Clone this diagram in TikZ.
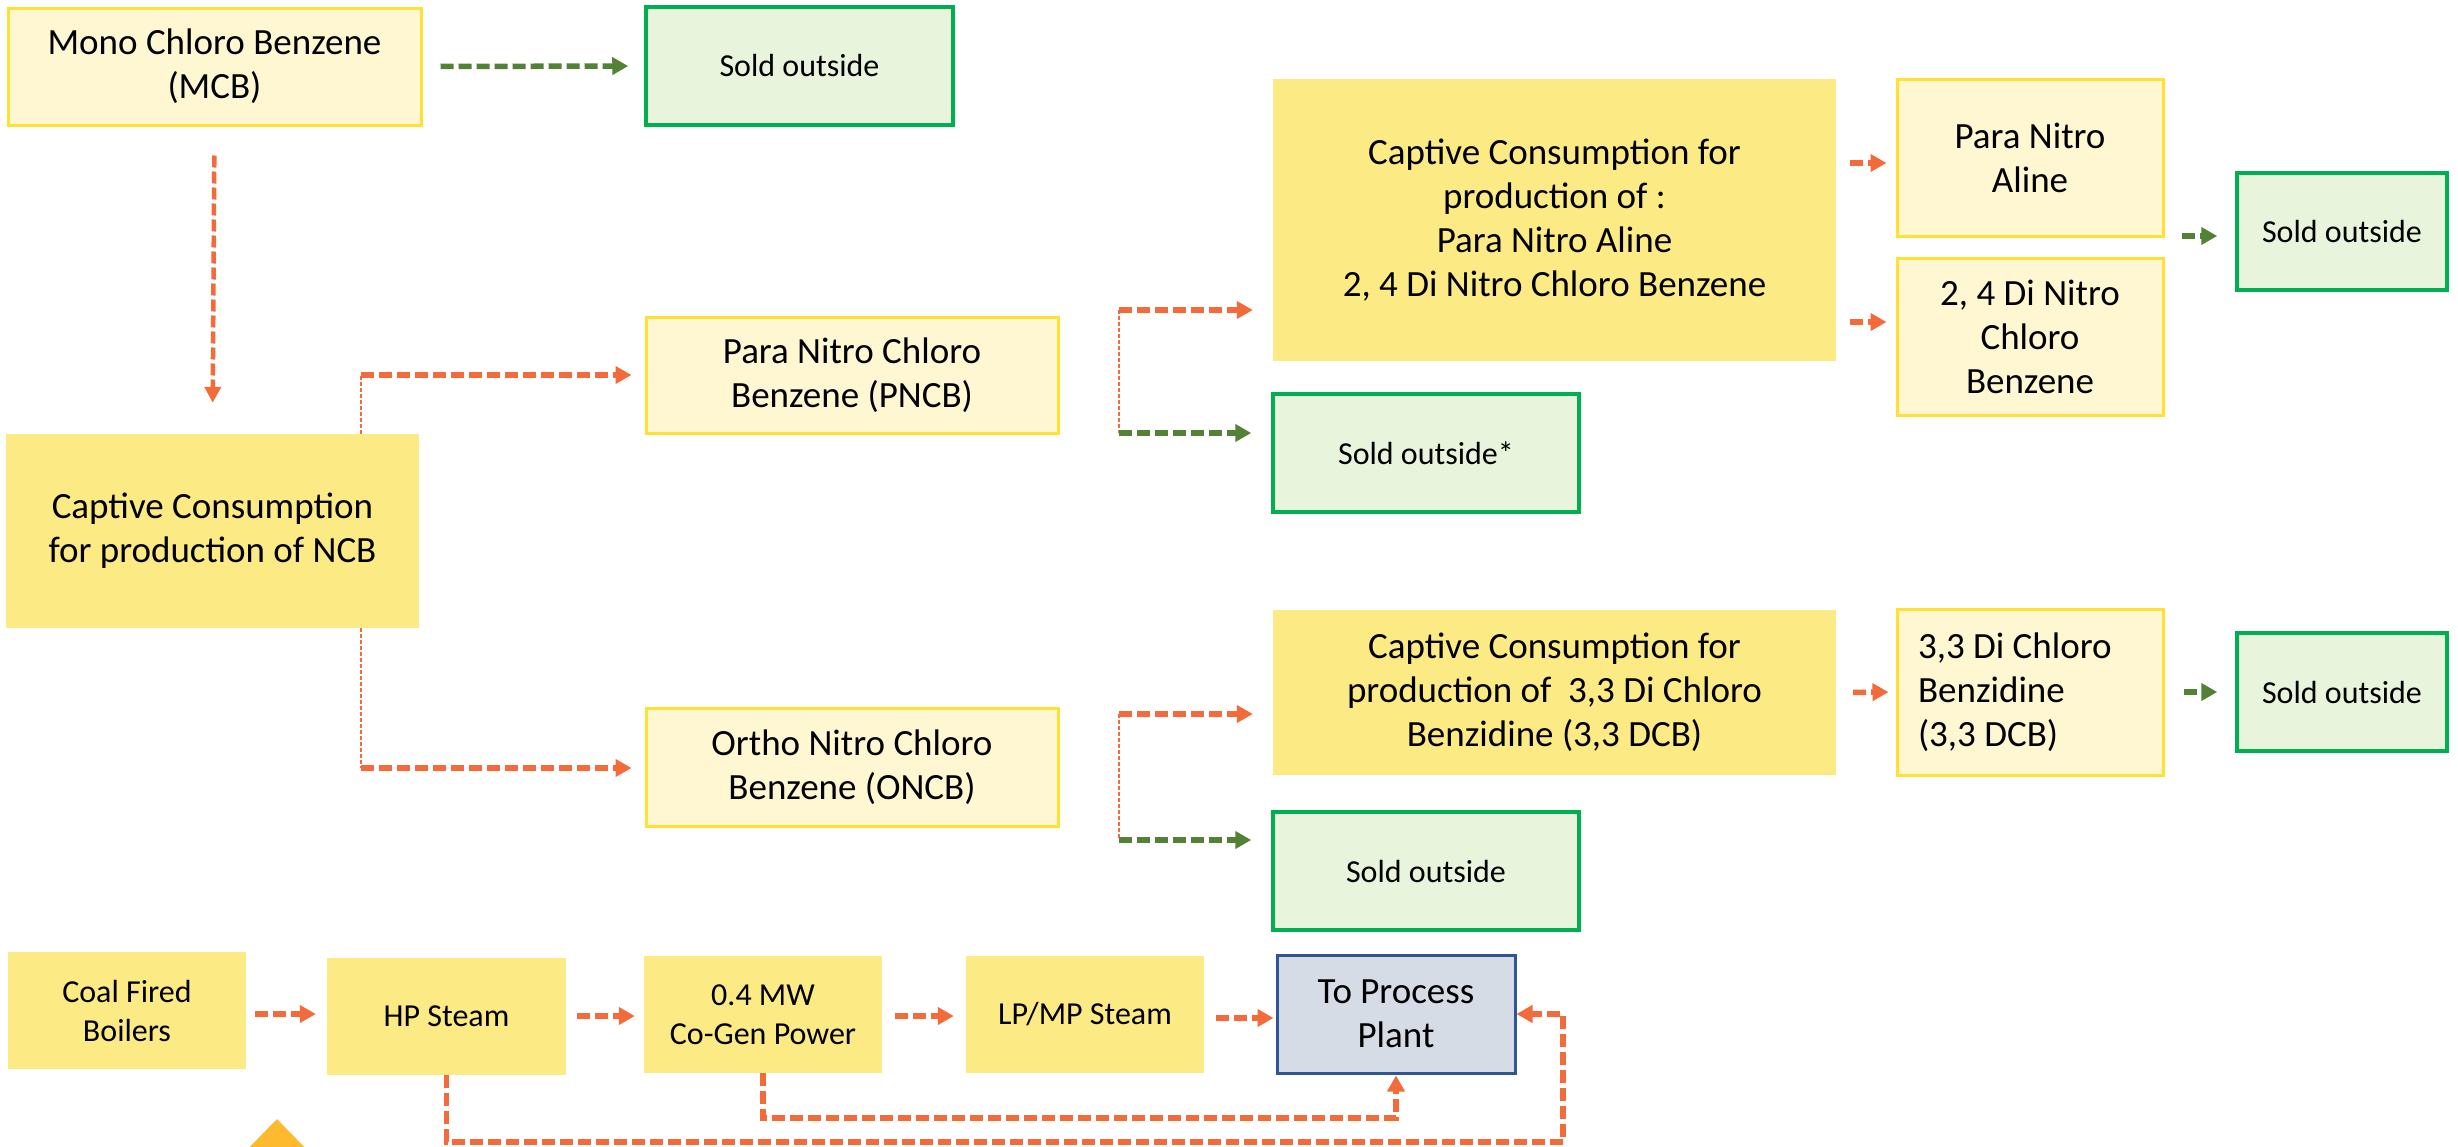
\documentclass[tikz,border=0pt]{standalone}
\usepackage{fontspec}
\setmainfont{Carlito}
\usetikzlibrary{arrows.meta,calc}
\definecolor{lyfill}{HTML}{FFF7D1}
\definecolor{yline}{HTML}{FFE033}
\definecolor{yfill}{HTML}{FCEA84}
\definecolor{gfill}{HTML}{E8F4DC}
\definecolor{gline}{HTML}{00B050}
\definecolor{garr}{HTML}{538135}
\definecolor{oarr}{HTML}{F36B3A}
\definecolor{bfill}{HTML}{D6DCE5}
\definecolor{bline}{HTML}{2F5597}
\definecolor{trif}{HTML}{FDBA2F}
\tikzset{
  box/.style={rectangle, inner sep=0pt, align=center, text=black},
  bigtxt/.style={font=\fontsize{37}{44}\selectfont},
  smalltxt/.style={font=\fontsize{32}{39}\selectfont},
  lybox/.style={box,bigtxt,fill=lyfill,draw=yline,line width=3pt},
  ybox/.style={box,bigtxt,fill=yfill},
  sybox/.style={box,smalltxt,fill=yfill},
  gbox/.style={box,smalltxt,fill=gfill,draw=gline,line width=3.5pt},
  bbox/.style={box,bigtxt,fill=bfill,draw=bline,line width=3pt},
  sz/.style 2 args={minimum width=#1pt, minimum height=#2pt},
  oarrow/.style={draw=oarr,line width=5.5pt,dash pattern=on 13pt off 5pt,
    -{Triangle[length=16pt,width=17pt]}},
  garrow/.style={draw=garr,line width=5.5pt,dash pattern=on 13pt off 5pt,
    -{Triangle[length=16pt,width=17pt]}},
  vlong/.style={draw=oarr,line width=4.5pt,dash pattern=on 12pt off 4pt,
    -{Triangle[length=16pt,width=16pt]}},
  thinline/.style={draw=oarr,line width=1.5pt,dash pattern=on 4pt off 2pt},
}
\begin{document}
\begin{tikzpicture}[x=1pt,y=-1pt]
\useasboundingbox (0,0) rectangle (2458,1146);
% top section
\node[lybox,sz={413}{117}] (mcb) at (214.5,66.5) {Mono Chloro Benzene\\(MCB)};
\node[gbox,sz={307}{118}] (sold1) at (799.5,66) {Sold outside};
\node[ybox,sz={413}{194}] (ncb) at (212.5,531) {Captive Consumption\\for production of NCB};
\node[lybox,sz={412}{116}] (pncb) at (852,375) {Para Nitro Chloro\\Benzene (PNCB)};
\node[lybox,sz={412}{118}] (oncb) at (852,767) {Ortho Nitro Chloro\\Benzene (ONCB)};
\node[ybox,sz={563}{282}] (cappna) at (1554.5,220) {Captive Consumption for\\production of :\\Para Nitro Aline\\2, 4 Di Nitro Chloro Benzene};
\node[gbox,sz={306}{118}] (sold2) at (1426,453) {Sold outside*};
\node[lybox,sz={266}{157}] (pna) at (2030,157.5) {Para Nitro\\Aline};
\node[lybox,sz={266}{157}] (dncb) at (2030,336.5) {2, 4 Di Nitro\\Chloro\\Benzene};
\node[gbox,sz={210}{117}] (sold4) at (2342,231.5) {Sold outside};
\node[ybox,sz={563}{165}] (capdcb) at (1554.5,692.5) {Captive Consumption for\\production of\ \ 3,3 Di Chloro\\Benzidine (3,3 DCB)};
\node[lybox,sz={266}{166},text width=224pt,align=flush left] (dcb) at (2030,692) {3,3 Di Chloro\\Benzidine\\(3,3 DCB)};
\node[gbox,sz={210}{118}] (sold5) at (2342,692) {Sold outside};
\node[gbox,sz={306}{118}] (sold3) at (1426,871) {Sold outside};
% bottom row
\node[sybox,sz={238}{117}] (coal) at (127,1010.5) {Coal Fired\\Boilers};
\node[sybox,sz={239}{117}] (hp) at (446.5,1016.5) {HP Steam};
\node[sybox,sz={238}{117}] (cogen) at (763,1014.5) {0.4 MW\\Co-Gen Power};
\node[sybox,sz={238}{117}] (lp) at (1085,1014.5) {LP/MP Steam};
\node[bbox,sz={238}{118}] (plant) at (1396,1014) {To Process\\Plant};
% connectors top
\draw[garrow, shorten <=18pt, shorten >=16pt] (mcb.east) -- (sold1.west);
\draw[vlong, shorten <=29pt, shorten >=31pt] (mcb.south) -- (ncb.north);
\coordinate (b1) at (361,375);
\coordinate (b2) at (361,768);
\draw[thinline] (ncb.north -| b1) -- (b1);
\draw[oarrow, shorten >=13pt] (b1) -- (pncb.west |- b1);
\draw[thinline] (ncb.south -| b2) -- (b2);
\draw[oarrow, shorten >=13pt] (b2) -- (oncb.west |- b2);
\coordinate (c1) at (1119,310);
\coordinate (c2) at (1119,433);
\coordinate (c3) at (1119,714);
\coordinate (c4) at (1119,840);
\draw[thinline] (c1) -- (c2);
\draw[oarrow, shorten >=20pt] (c1) -- (cappna.west |- c1);
\draw[garrow, shorten >=20pt] (c2) -- (sold2.west |- c2);
\draw[thinline] (c3) -- (c4);
\draw[oarrow, shorten >=20pt] (c3) -- (capdcb.west |- c3);
\draw[garrow, shorten >=20pt] (c4) -- (sold3.west |- c4);
\draw[oarrow, shorten <=14pt, shorten >=9pt] (cappna.east |- 0,163) -- (pna.west |- 0,163);
\draw[oarrow, shorten <=14pt, shorten >=9pt] (cappna.east |- 0,322) -- (dncb.west |- 0,322);
\draw[garrow, shorten <=17pt, shorten >=18pt] (pna.east |- 0,236) -- (sold4.west |- 0,236);
\draw[oarrow, shorten <=17pt, shorten >=7pt] (capdcb.east) -- (dcb.west);
\draw[garrow, shorten <=19pt, shorten >=18pt] (dcb.east) -- (sold5.west);
% connectors bottom
\draw[oarrow, shorten <=9pt, shorten >=11pt] (coal.east |- 0,1014) -- (hp.west |- 0,1014);
\draw[oarrow, shorten <=11pt, shorten >=9pt] (hp.east |- 0,1016) -- (cogen.west |- 0,1016);
\draw[oarrow, shorten <=13pt, shorten >=12pt] (cogen.east |- 0,1016) -- (lp.west |- 0,1016);
\draw[oarrow, shorten <=12pt, shorten >=2pt] (lp.east |- 0,1018) -- (plant.west |- 0,1018);
\draw[oarrow, shorten >=1pt] (cogen.south) -- ++(0,45) -| (plant.south);
\coordinate (hr) at (1563,1142);
\draw[oarrow] (hp.south) |- (hr) |- (plant.east);
% triangle
\begin{scope}
\clip (0,0) rectangle (2458,1146);
\fill[trif] (277,1119) -- (237,1160) -- (317,1160) -- cycle;
\end{scope}
\end{tikzpicture}
\end{document}
